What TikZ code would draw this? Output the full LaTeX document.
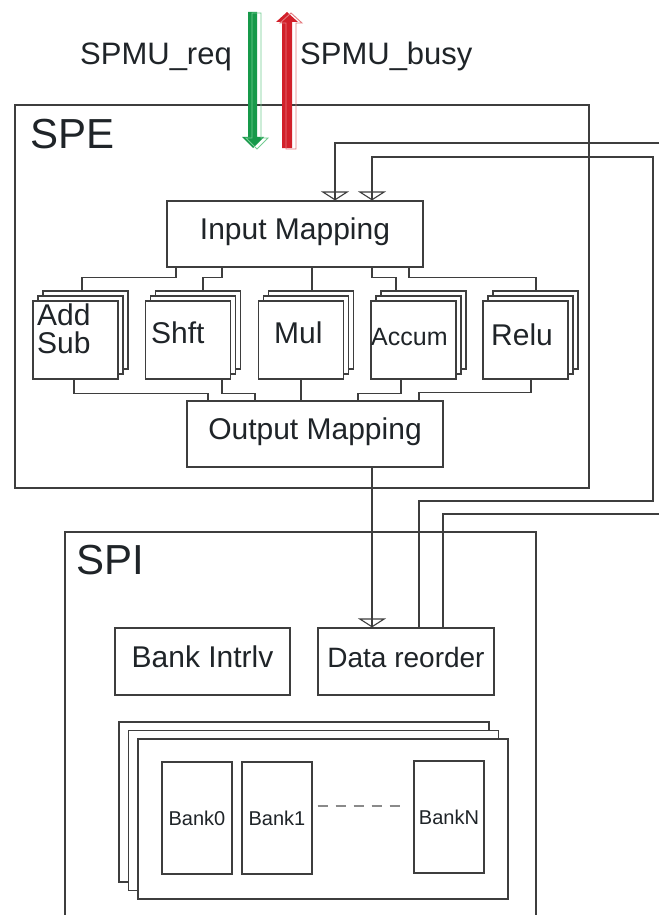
\documentclass[tikz,border=0pt]{standalone}
\usepackage{fontspec}
\setmainfont{Liberation Sans}
\usetikzlibrary{arrows.meta,decorations.markings}

\definecolor{linec}{HTML}{3E3E3E}
\definecolor{txt}{HTML}{1F2428}
\definecolor{reqgreen}{HTML}{17994A}
\definecolor{reqgreenlt}{HTML}{74CC92}
\definecolor{busyred}{HTML}{D2202A}
\definecolor{busyredlt}{HTML}{E57A7F}
\definecolor{dashc}{HTML}{8A8A8A}

\newcommand\pxfont[1]{\fontsize{#1pt}{#1pt}\selectfont}

\begin{document}
\begin{tikzpicture}[x=1pt,y=-1pt,
  frame/.style={draw=linec, line width=1.2pt, inner sep=0pt},
  lbl/.style={text=txt, inner sep=0pt},
  box/.style={draw=linec, line width=1.2pt, fill=white, inner sep=0pt,
    text=txt, font=\pxfont{30}, text height=22pt, text depth=11pt,
    minimum height=66pt},
  layer/.style={draw=linec, line width=1.2pt, fill=white},
  unit/.style={draw=linec, line width=1.2pt, fill=white, inner sep=0pt,
    minimum width=85pt, minimum height=78pt,
    preaction={layer, transform canvas={xshift=10pt, yshift=10pt}},
    preaction={layer, transform canvas={xshift=5pt, yshift=5pt}}},
  bankstack/.style={draw=linec, line width=1.2pt, fill=white, inner sep=0pt,
    preaction={layer, transform canvas={xshift=-19pt, yshift=17pt}},
    preaction={layer, transform canvas={xshift=-9.5pt, yshift=8.5pt}}},
  bank/.style={draw=linec, line width=1.2pt, fill=white, inner sep=0pt,
    text=txt, font=\pxfont{20}, minimum width=70pt, minimum height=112pt},
  wire/.style={draw=linec, line width=1.1pt},
  tipin/.style={postaction={decorate}, decoration={markings,
    mark=at position 1 with {\arrow{Triangle[open, width=28pt, length=9pt, line width=1.1pt]}}}}
]
\useasboundingbox (0,0) rectangle (659,915);
\clip (0,0) rectangle (659,915);
\fill[white] (0,0) rectangle (659,915);

% outer blocks
\node[frame, minimum width=574pt, minimum height=383pt] (spe) at (302,296.5) {};
\node[frame, minimum width=471pt, minimum height=418pt] (spi) at (300.5,741) {};
\node[lbl, font=\pxfont{42}, anchor=base west] (spe-t) at (30,149) {SPE};
\node[lbl, font=\pxfont{42}, anchor=base west] (spi-t) at (76,574) {SPI};

% SPMU handshake
\node[lbl, font=\pxfont{31}, anchor=base east] (req-t) at (232,65) {SPMU\_req};
\node[lbl, font=\pxfont{31}, anchor=base west] (busy-t) at (300,65) {SPMU\_busy};
\fill[reqgreen] (248,12) -- (257,12) -- (257,137) -- (264,137) -- (253,148)
  -- (242,137) -- (248,137) -- cycle;
\draw[reqgreenlt, line width=0.9pt, shift={(4,1)}] (248,12) -- (257,12) -- (257,137)
  -- (264,137) -- (253,148) -- (242,137) -- (248,137) -- cycle;
\fill[busyred] (282,148) -- (282,22) -- (276,22) -- (287,12) -- (298,22)
  -- (292,22) -- (292,148) -- cycle;
\draw[busyredlt, line width=0.9pt, shift={(4,1)}] (282,148) -- (282,22) -- (276,22)
  -- (287,12) -- (298,22) -- (292,22) -- (292,148) -- cycle;

% mapping stages
\node[box, minimum width=256pt] (inmap) at (295,234) {Input Mapping};
\node[box, minimum width=256pt] (outmap) at (315,434) {Output Mapping};

% functional units
\node[unit] (addsub) at (75.5,340) {};
\node[unit] (shft) at (188,340) {};
\node[unit] (mul) at (301,340) {};
\node[unit] (accum) at (413.5,340) {};
\node[unit] (relu) at (525.5,340) {};
\node[lbl, font=\pxfont{30}, anchor=base west] (add-t) at (37,325) {Add};
\node[lbl, font=\pxfont{30}, anchor=base west] (sub-t) at (37,353) {Sub};
\node[lbl, font=\pxfont{30}, anchor=base west] (shft-t) at (151,343) {Shft};
\node[lbl, font=\pxfont{30}, anchor=base west] (mul-t) at (274,343) {Mul};
\node[lbl, font=\pxfont{25}, anchor=base west] (accum-t) at (371,345) {Accum};
\node[lbl, font=\pxfont{30}, anchor=base west] (relu-t) at (491,345) {Relu};

% input mapping fan-out
\draw[wire] ([xshift=-119pt]inmap.south) -- ++(0,10) -| ([shift={(6.5,-10)}]addsub.north);
\draw[wire] ([xshift=-73pt]inmap.south) -- ++(0,10) -| ([shift={(15,-10)}]shft.north);
\draw[wire] ([xshift=17pt]inmap.south) -- ([shift={(11,-10)}]mul.north);
\draw[wire] ([xshift=77pt]inmap.south) -- ++(0,10) -| ([shift={(-17.5,-10)}]accum.north);
\draw[wire] ([xshift=114pt]inmap.south) -- ++(0,10) -| ([shift={(10.5,-10)}]relu.north);

% output mapping fan-in
\draw[wire] ([xshift=-1.5pt]addsub.south) -- ++(0,14) -| ([xshift=-107pt]outmap.north);
\draw[wire] ([xshift=34pt]shft.south) -- ++(0,14) -| ([xshift=-60pt]outmap.north);
\draw[wire] (mul.south) -- ([xshift=-14pt]outmap.north);
\draw[wire] ([xshift=-12.5pt]accum.south) -- ++(0,14) -| ([xshift=43pt]outmap.north);
\draw[wire] ([xshift=5.5pt]relu.south) -- ++(0,13) -| ([xshift=104pt]outmap.north);

% SPI contents
\node[box, minimum width=175pt, minimum height=67pt] (bankint) at (202.5,661.5) {Bank Intrlv};
\node[box, minimum width=176pt, minimum height=67pt, font=\pxfont{28}] (dro) at (406,661.5) {Data reorder};

\node[bankstack, minimum width=370pt, minimum height=160pt] (bankarr) at (323,819) {};
\node[bank] (bank0) at (197,818) {Bank0};
\node[bank] (bank1) at (277,818) {Bank1};
\node[bank] (bankN) at (449,817) {BankN};
\draw[dashc, line width=1.1pt, dash pattern=on 10pt off 8pt]
  ([shift={(5,-12)}]bank1.east) -- ([shift={(-11,-11)}]bankN.west);

% data paths between SPE and SPI
\coordinate (extA) at (659,143);
\coordinate (loopB) at (653,501);
\coordinate (loopT) at (653,157);
\coordinate (extC) at (659,514);
\draw[wire, tipin] (extA) -| ([xshift=40pt]inmap.north);
\draw[wire, tipin] ([xshift=13pt]dro.north) |- (loopB) -- (loopT) -| ([xshift=77pt]inmap.north);
\draw[wire] ([xshift=37pt]dro.north) |- (extC);
\draw[wire, tipin] ([xshift=57pt]outmap.south) -- ([xshift=-34pt]dro.north);
\end{tikzpicture}
\end{document}
